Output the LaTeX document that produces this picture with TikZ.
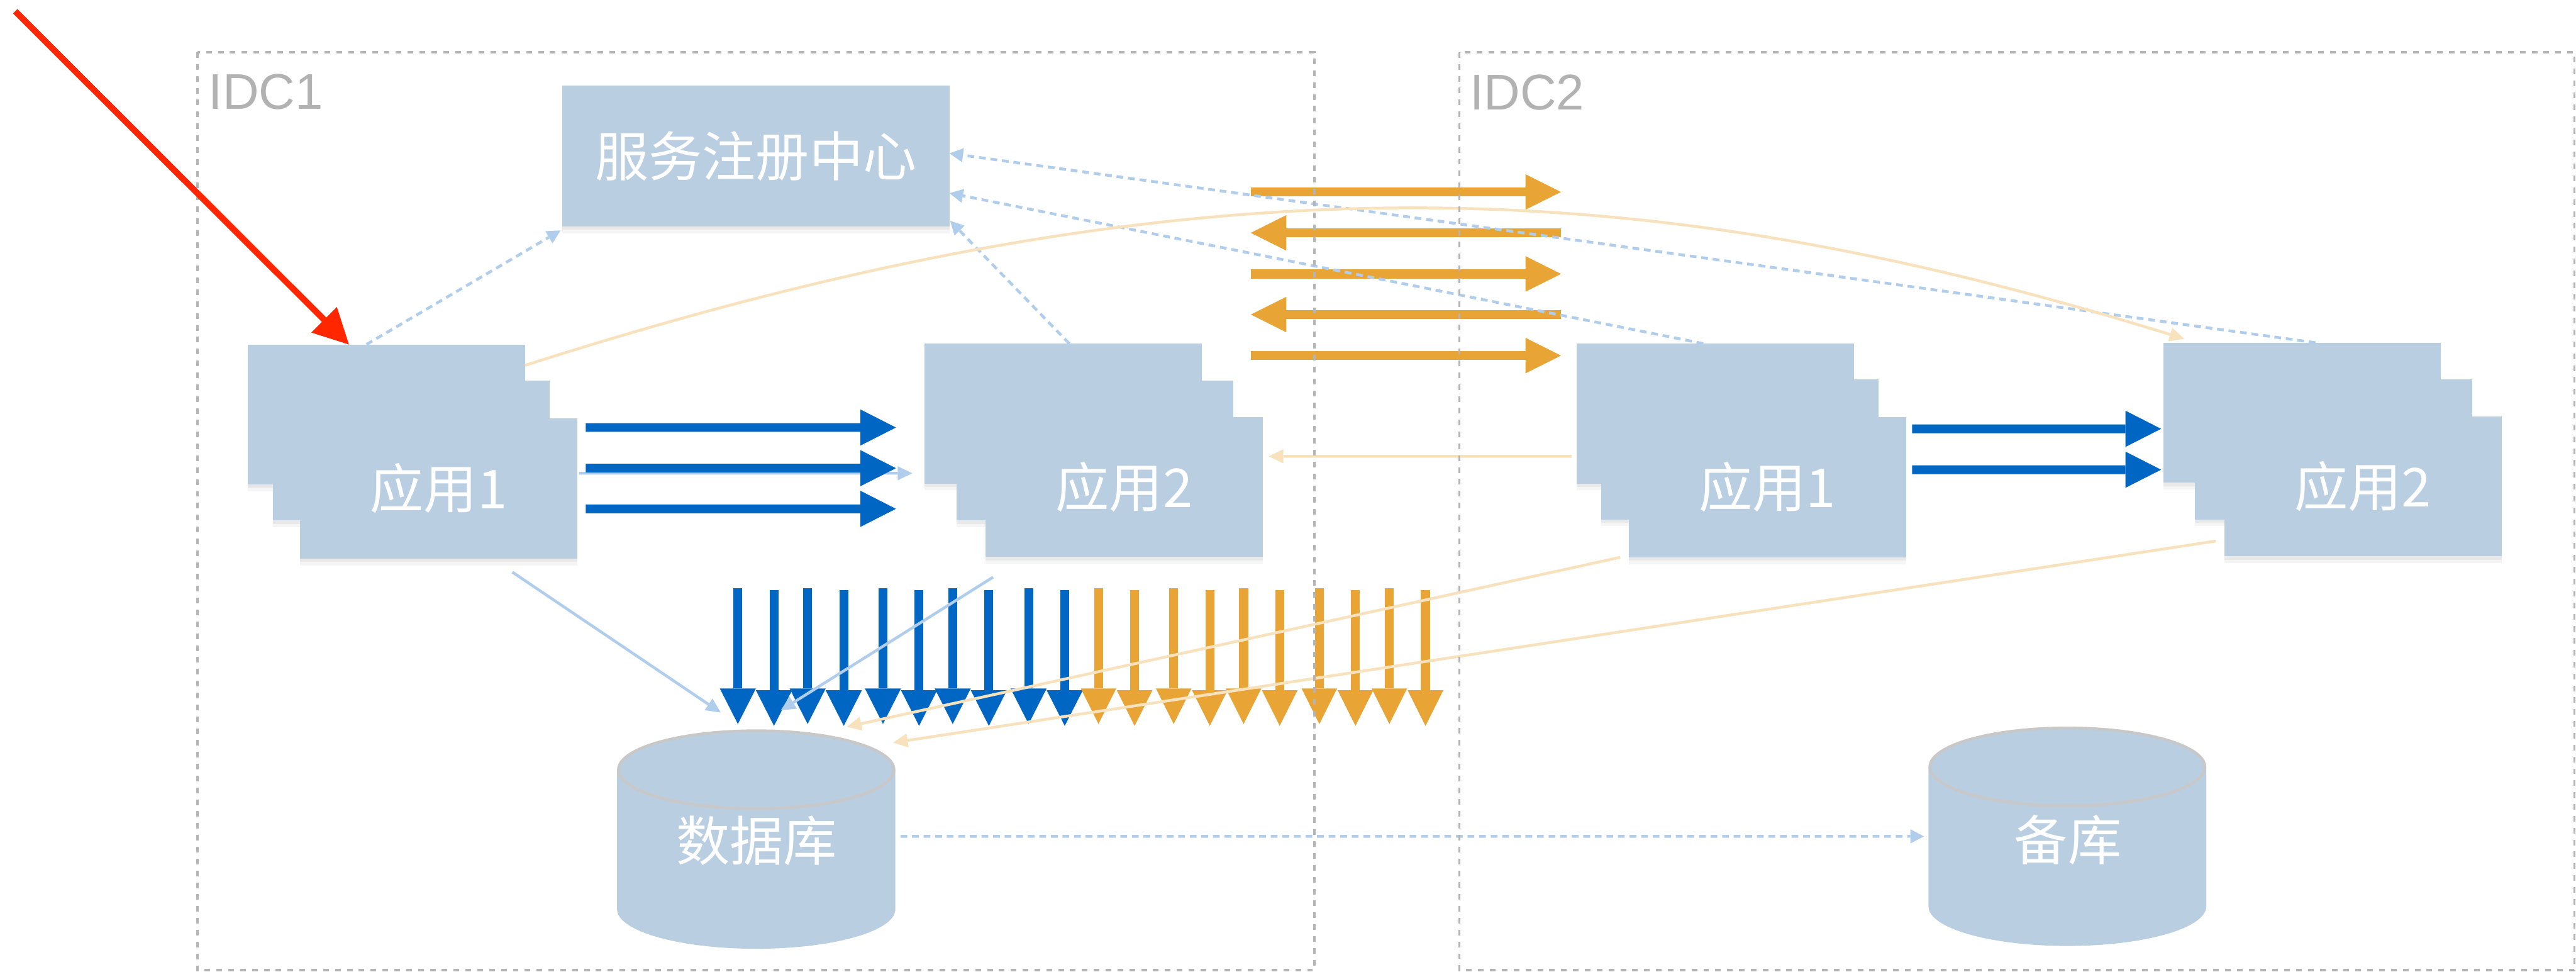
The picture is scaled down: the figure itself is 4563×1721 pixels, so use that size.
\documentclass[tikz,border=0pt]{standalone}
\usepackage{fontspec}
\setmainfont{Liberation Sans}
\newfontfamily\cjk{Noto Sans CJK SC}
\usetikzlibrary{arrows.meta,shadows}

\definecolor{boxfill}{RGB}{186,206,226}
\definecolor{cblue}{RGB}{0,102,196}
\definecolor{corange}{RGB}{232,164,52}
\definecolor{clblue}{RGB}{176,206,236}
\definecolor{clorange}{RGB}{248,226,190}
\definecolor{cred}{RGB}{255,38,0}
\definecolor{cframe}{RGB}{180,180,180}
\definecolor{cidc}{RGB}{178,178,178}
\definecolor{cylgray}{RGB}{200,200,200}

\begin{document}
\begin{tikzpicture}[x=0.1mm,y=-0.1mm,
  app/.style={fill=boxfill, minimum width=49.1mm, minimum height=24.8mm,
    inner sep=0pt, outer sep=0pt, text=white,
    font=\cjk\fontsize{27pt}{30pt}\selectfont,
    drop shadow={shadow xshift=0mm, shadow yshift=-1.2mm, opacity=0.04, fill=black},
    drop shadow={shadow xshift=0mm, shadow yshift=-0.6mm, opacity=0.05, fill=black}},
  dbtext/.style={inner sep=0pt, outer sep=0pt, text=white,
    font=\cjk\fontsize{27pt}{30pt}\selectfont},
  fatblue/.style={draw=cblue, line width=1.55mm,
    -{Triangle[length=6.3mm,width=6.4mm,line width=0pt]}},
  fatorange/.style={draw=corange, line width=1.6mm,
    -{Triangle[length=6.3mm,width=6.3mm,line width=0pt]}},
  regline/.style={draw=clblue, line width=0.5mm, dash pattern=on 1.2mm off 0.85mm,
    -{Triangle[length=2.4mm,width=2.5mm,line width=0pt]}},
  blueline/.style={draw=clblue, line width=0.5mm,
    -{Triangle[length=2.6mm,width=2.5mm,line width=0pt]}},
  orline/.style={draw=clorange, line width=0.5mm,
    -{Triangle[length=2.6mm,width=2.5mm,line width=0pt]}},
  idcframe/.style={draw=cframe, line width=0.4mm, dash pattern=on 1mm off 1.1mm},
  idclabel/.style={text=cidc, font=\fontsize{25.3pt}{28pt}\selectfont,
    anchor=base west, inner sep=0pt},
  redarrow/.style={draw=cred, line width=1.1mm,
    -{Triangle[length=6.2mm,width=6.4mm,line width=0pt]}},
]
\useasboundingbox (0,0) rectangle (4563,1721);

% ---------- registry ----------
\node[app, minimum width=68.6mm, minimum height=24.9mm] (reg) at (1339,276.5) {服务注册中心};

% ---------- application stacks ----------
\node[app] (a1r1) at (684.5,734) {};
\node[app] (a1r2) at (728.5,797.5) {};
\node[app] (a1r3) at (777,865) {应用1};

\node[app] (b1r1) at (1883.5,732.3) {};
\node[app] (b1r2) at (1939.5,797.8) {};
\node[app] (b1r3) at (1991.3,862.3) {应用2};

\node[app] (c1r1) at (3038.5,732.3) {};
\node[app] (c1r2) at (3081.5,795.8) {};
\node[app] (c1r3) at (3130.5,862.8) {应用1};

\node[app] (d1r1) at (4077.5,730.8) {};
\node[app] (d1r2) at (4133.5,795.8) {};
\node[app] (d1r3) at (4185.5,861) {应用2};

% ---------- databases ----------
\fill[boxfill] (1093,1363) -- (1093,1610)
  arc[start angle=180,end angle=360,x radius=24.65mm,y radius=7mm] -- (1586,1363) -- cycle;
\filldraw[fill=boxfill, draw=cylgray, line width=0.5mm]
  (1339.5,1363) ellipse [x radius=24.4mm, y radius=6.9mm];
\node[dbtext, minimum width=49.3mm, minimum height=39.8mm] (db) at (1340,1489) {数据库};

\fill[boxfill] (3416,1358) -- (3416,1605)
  arc[start angle=180,end angle=360,x radius=24.6mm,y radius=7mm] -- (3908,1358) -- cycle;
\filldraw[fill=boxfill, draw=cylgray, line width=0.5mm]
  (3662,1358) ellipse [x radius=24.35mm, y radius=6.9mm];
\node[dbtext, minimum width=49.2mm, minimum height=40.4mm] (bk) at (3663,1487) {备库};

% ---------- light call between the two IDC1 apps ----------
\draw[blueline] ([shift={(0.3mm,2.7mm)}]a1r3.east) -- ([shift={(-2.2mm,-10.57mm)}]b1r1.west);

% ---------- heavy traffic, IDC1 ----------
\draw[fatblue] ([shift={(1.5mm,10.8mm)}]a1r3.east) -- ([shift={(-5.1mm,-2.47mm)}]b1r1.west);
\draw[fatblue] ([shift={(1.5mm,3.6mm)}]a1r3.east) -- ([shift={(-5.1mm,-9.67mm)}]b1r1.west);
\draw[fatblue] ([shift={(1.5mm,-3.6mm)}]a1r3.east) -- ([shift={(-5.1mm,-16.87mm)}]b1r1.west);

% ---------- heavy traffic, IDC2 ----------
\draw[fatblue] ([shift={(1.1mm,10.35mm)}]c1r3.east) -- ([shift={(-0.4mm,-2.85mm)}]d1r1.west);
\draw[fatblue] ([shift={(1.1mm,3.11mm)}]c1r3.east) -- ([shift={(-0.4mm,-10.09mm)}]d1r1.west);

% ---------- cross-IDC traffic ----------
\coordinate (xl) at (2215.6,0);
\coordinate (xr) at (2765,0);
\foreach \y/\i in {340/1,485/3,629.7/5}
  \draw[fatorange] (xl |- 0,\y) -- (xr |- 0,\y);
\foreach \y/\i in {412.3/2,557/4}
  \draw[fatorange] (xr |- 0,\y) -- (xl |- 0,\y);

% ---------- database writes ----------
\foreach \x/\d [count=\i] in {1307/0,1371/3.3,1430.6/0,1494.6/3.3,1564/0,1628/3.3,1687.6/0,1751.6/3.3,1822/0,1886/3.3}{
  \coordinate (vb\i s) at (\x,1042+\d);
  \coordinate (vb\i e) at (\x,1282+\d);
  \draw[fatblue] (vb\i s) -- (vb\i e);
}
\foreach \x/\d [count=\i] in {1945.8/0,2009.8/3.3,2079/0,2143/3.3,2202.8/0,2266.8/3.3,2337/0,2401/3.3,2461/0,2525/3.3}{
  \coordinate (vo\i s) at (\x,1042+\d);
  \coordinate (vo\i e) at (\x,1282+\d);
  \draw[fatorange] (vo\i s) -- (vo\i e);
}

% ---------- registration (dotted) ----------
\draw[regline] ([xshift=21mm]a1r1.north west) -- ([shift={(-0.3mm,-0.7mm)}]reg.south west);
\draw[regline] ([xshift=25.6mm]b1r1.north west) -- ([shift={(0.1mm,1mm)}]reg.south east);
\draw[regline] ([xshift=22.4mm]c1r1.north west) -- ([yshift=-6.55mm]reg.east);
\draw[regline] ([xshift=26.95mm]d1r1.north west) -- ([yshift=0.5mm]reg.east);

% ---------- light cross calls ----------
\draw[orline] ([yshift=-3.7mm]a1r1.north east)
  .. controls (2130,263) and (2919,305.5) .. ([shift={(3.7mm,0.68mm)}]d1r1.north west);
\draw[orline] ([shift={(-0.9mm,-7.57mm)}]c1r1.west) -- ([shift={(1.04mm,5.43mm)}]b1r3.east);

% ---------- light database access ----------
\draw[blueline] ([shift={(37.6mm,-2.4mm)}]a1r3.south west) -- ([shift={(-6.34mm,2.83mm)}]db.north);
\draw[blueline] ([shift={(1.32mm,-3.57mm)}]b1r3.south west) -- ([shift={(4.3mm,3.2mm)}]db.north);
\draw[orline] ([xshift=-1.5mm]c1r3.south west) -- ([shift={(16mm,0.3mm)}]db.north);
\draw[orline] ([shift={(-1.5mm,2.7mm)}]d1r3.south west) -- ([shift={(24.2mm,-2.5mm)}]db.north);

% ---------- replication ----------
\draw[regline] ([shift={(0.85mm,0.8mm)}]db.east) -- ([shift={(-0.9mm,0.6mm)}]bk.west);

% ---------- data centre frames ----------
\draw[idcframe] (350,92.5) rectangle (2328,1718);
\draw[idcframe] (2585,92.3) rectangle (4560,1718);
\node[idclabel] (idc1) at (369,193) {IDC1};
\node[idclabel] (idc2) at (2603,194) {IDC2};

% ---------- entry point ----------
\coordinate (entry) at (27,20);
\draw[redarrow] (entry) -- ([xshift=17.9mm]a1r1.north west);
\end{tikzpicture}
\end{document}
